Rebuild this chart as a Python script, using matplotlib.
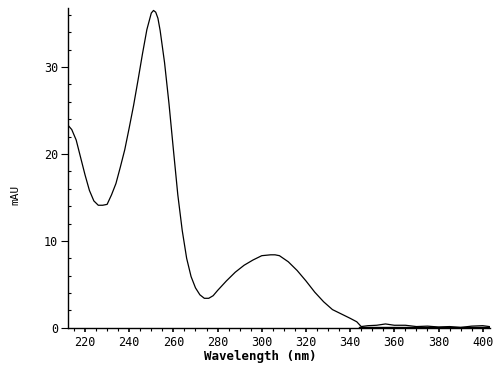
#! /usr/bin/env python3

import matplotlib
matplotlib.use( 'Agg' )
import matplotlib.pyplot as plt
from   matplotlib.ticker import MultipleLocator

#----------------------------------------------------------------------------
# Spectrum values
#----------------------------------------------------------------------------
wavelength = [ 212.3, 214, 216, 218, 220, 222, 224, 226, 228, 230,
               232, 234, 236, 238, 240, 242, 244, 246, 248, 250,
               251, 252, 253, 254, 256, 258, 260, 262, 264, 266,
               268, 270, 272, 274, 276, 278, 280, 284, 288, 292,
               296, 300, 304, 306, 308, 312, 316, 320, 324, 328,
               332, 336, 340, 343, 345, 348, 352, 356, 360, 365,
               370, 375, 380, 385, 390, 395, 400, 403 ]

mAU = [ 23.3, 22.8, 21.6, 19.6, 17.6, 15.8, 14.6, 14.1, 14.1, 14.2,
        15.3, 16.6, 18.5, 20.5, 23.0, 25.6, 28.5, 31.5, 34.3, 36.2,
        36.5, 36.3, 35.6, 34.2, 30.5, 25.8, 20.5, 15.3, 11.2, 8.0,
        5.9, 4.6, 3.8, 3.4, 3.4, 3.7, 4.3, 5.4, 6.4, 7.2,
        7.8, 8.3, 8.4, 8.4, 8.3, 7.6, 6.6, 5.4, 4.1, 3.0,
        2.1, 1.6, 1.1, 0.7, 0.15, 0.25, 0.3, 0.45, 0.3, 0.3,
        0.15, 0.2, 0.1, 0.15, 0.05, 0.2, 0.25, 0.15 ]

xTicks = list( range( 220, 401, 20 ) )
yTicks = [ 0, 10, 20, 30 ]

#----------------------------------------------------------------------------
def main():

    font = 'DejaVu Sans Mono'

    fig = plt.figure( figsize = ( 5, 3.73 ), dpi = 100 )
    ax  = fig.add_axes( [ 0.136, 0.121, 0.844, 0.858 ] )

    ax.plot( wavelength, mAU, color = 'black', lw = 0.9 )
    ax.axhline( 0.05, xmin = 0.69, color = 'black', lw = 1.0 )

    ax.set_xlim( 212.3, 403.3 )
    ax.set_ylim( 0, 36.8 )

    for s in [ 'top', 'right' ] :
        ax.spines[ s ].set_visible( False )
    for s in [ 'left', 'bottom' ] :
        ax.spines[ s ].set_linewidth( 1.0 )

    ax.set_xticks( xTicks )
    ax.set_yticks( yTicks )
    ax.xaxis.set_minor_locator( MultipleLocator( 5 ) )
    ax.yaxis.set_minor_locator( MultipleLocator( 2 ) )

    ax.tick_params( axis = 'x', which = 'major', direction = 'out',
                    length = 3, width = 1.2, pad = 3 )
    ax.tick_params( axis = 'x', which = 'minor', direction = 'out',
                    length = 2, width = 0.8 )
    ax.tick_params( axis = 'y', which = 'major', direction = 'out',
                    length = 5, width = 0.8, pad = 2 )
    ax.tick_params( axis = 'y', which = 'minor', direction = 'in',
                    length = 2, width = 0.8 )

    for lbl in ax.get_xticklabels() + ax.get_yticklabels() :
        lbl.set_fontfamily( font )
        lbl.set_fontsize( 8.5 )

    fig.text( 0.52, 0.045, 'Wavelength (nm)', family = font,
              fontsize = 9, fontweight = 'bold',
              ha = 'center', va = 'center' )
    fig.text( 0.03, 0.477, 'mAU', family = font, fontsize = 8,
              rotation = 90, ha = 'center', va = 'center' )

    fig.savefig( 'out.png', dpi = 100 )

#----------------------------------------------------------------------------
if __name__ == "__main__":
    main()
